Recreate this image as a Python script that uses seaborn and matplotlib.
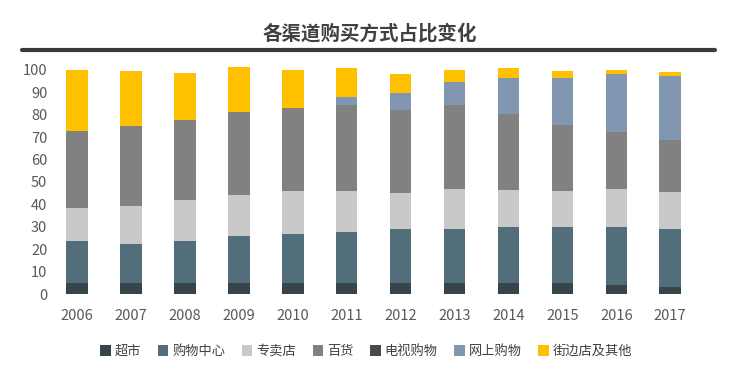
import seaborn as sns
import pandas as pd
import matplotlib.pyplot as plt
from matplotlib.patches import Patch

years = list(range(2006, 2018))
channels = ["超市", "购物中心", "专卖店", "百货", "电视购物", "网上购物", "街边店及其他"]

supermarket = [5, 5, 5, 5, 5, 5, 5, 5, 5, 5, 4, 3]
mall = [18.5, 17.5, 18.5, 21, 22, 22.5, 24, 24, 25, 25, 26, 26]
specialty = [15, 17, 18.5, 18, 19, 18.5, 16, 18, 16.5, 16, 17, 16.5]
department = [34.3, 35.3, 35.8, 37.3, 36.8, 38.3, 37.3, 37.3, 33.8, 29.6, 25.1, 23.3]
tv_shopping = [0] * 12
online = [0, 0, 0, 0, 0, 3.5, 7.5, 10.5, 16, 20.8, 26, 28.5]
street_other = [27, 24.5, 21, 20, 17, 13, 8.5, 5, 4.4, 3, 2, 1.8]

colors = ["#37444a", "#536e7b", "#c9c9c9", "#818181", "#4a4a4a", "#8196b1", "#ffc000"]

series = [supermarket, mall, specialty, department, tv_shopping, online, street_other]
df = pd.DataFrame({ch: vals for ch, vals in zip(channels, series)}, index=years)
df = df.reset_index(names="year").melt(id_vars="year", var_name="channel", value_name="value")

sns.set_theme(style="white")
plt.rcParams["font.family"] = ["Noto Sans CJK SC", "DejaVu Sans"]

fig, ax = plt.subplots(figsize=(7.37, 3.78), dpi=100)
fig.subplots_adjust(left=0.068, right=0.946, bottom=0.222, top=0.83)

palette = dict(zip(channels, colors))
# histplot stacks the first hue level on top, so feed it reversed
sns.histplot(data=df, x="year", weights="value", hue="channel",
             hue_order=channels[::-1], palette=palette, multiple="stack",
             discrete=True, shrink=0.4, alpha=1, linewidth=0, legend=False, ax=ax)

ax.set_xlim(2005.5, 2017.5)
ax.set_ylim(0, 102.5)
ax.set_xticks(years)
ax.set_xticklabels([str(y) for y in years])
ax.set_yticks(range(0, 101, 10))
ax.set(xlabel="", ylabel="")
ax.tick_params(axis="both", labelsize=10.5, colors="#595959", length=0)
ax.tick_params(axis="x", pad=11)
ax.tick_params(axis="y", pad=2)
sns.despine(ax=ax, left=True, bottom=True)

fig.text(0.502, 0.912, "各渠道购买方式占比变化", ha="center", va="center",
         fontsize=14, fontweight="bold", color="#404040")
fig.add_artist(plt.Line2D([0.03, 0.97], [0.868, 0.868], color="#3a3a3a", linewidth=3))

handles = [Patch(facecolor=c, edgecolor="none") for c in colors]
fig.legend(handles, channels, loc="center", bbox_to_anchor=(0.497, 0.07), ncol=7,
           frameon=False, fontsize=9.5, handlelength=0.8, handleheight=0.8,
           handletextpad=0.3, columnspacing=1.25, labelcolor="#404040")

plt.savefig("out.png", dpi=100)
